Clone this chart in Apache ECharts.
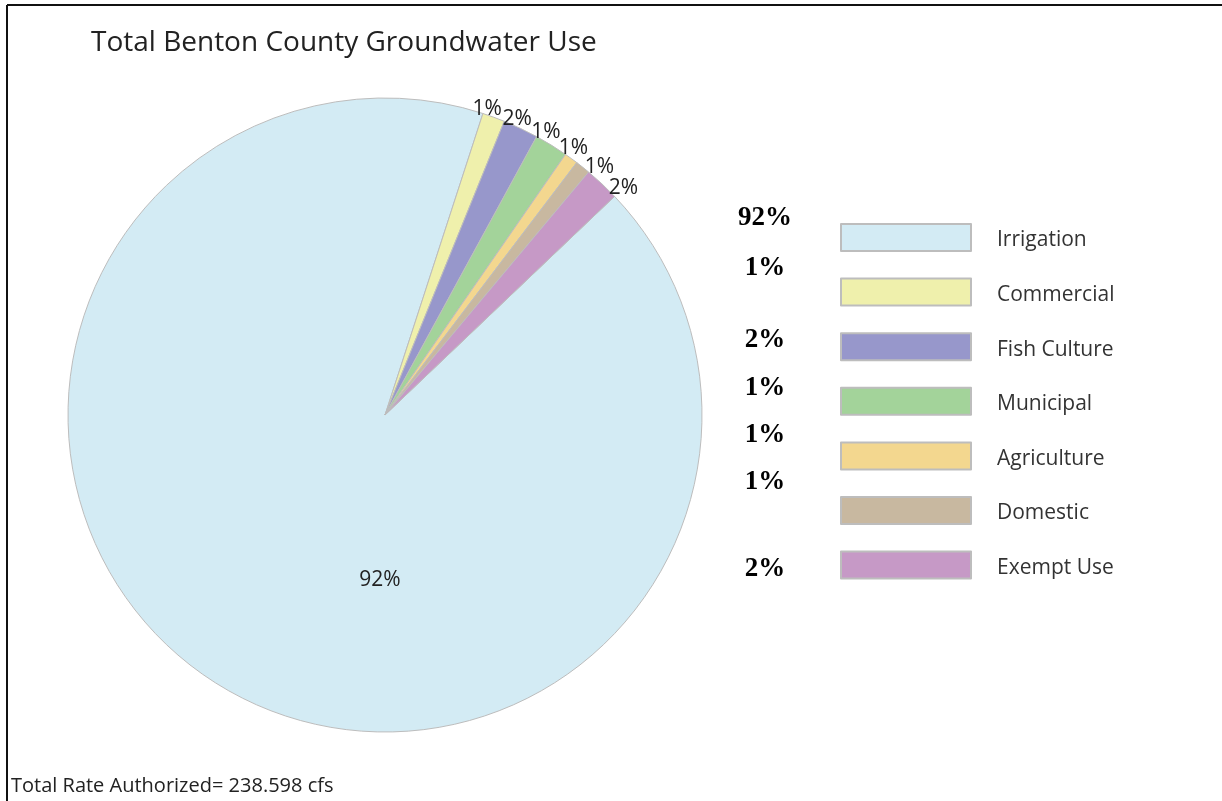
<!DOCTYPE html>
<html>
<head>
<meta charset="utf-8">
<script src="https://cdn.jsdelivr.net/npm/echarts@6/dist/echarts.min.js"></script>
<style>
  html, body { margin: 0; padding: 0; background: #fff; }
  #chart { width: 1222px; height: 801px; }
</style>
</head>
<body>
<div id="chart"></div>
<script>
// data (share of total, percent)
const categories = ['Irrigation', 'Commercial', 'Fish Culture', 'Municipal', 'Agriculture', 'Domestic', 'Exempt Use']
const shares = [92.1, 1.14, 1.8, 1.7, 0.7, 0.76, 1.79]
const sliceLabels = ['92%', '1%', '2%', '1%', '1%', '1%', '2%']
const sideLabels = ['92%', '1%', '2%', '1%', '1%', '1%', '2%']
const colors = ['#d3ebf4', '#eff0ac', '#9797cb', '#a3d39a', '#f3d78f', '#c8b8a0', '#c699c6']

const chart = echarts.init(document.getElementById('chart'))

const font = '"Open Sans", "DejaVu Sans", sans-serif'
const center = [385, 415]
const radius = 317
const startAngle = 43.6

// vertical spots of the bold side labels
const sideY = [218, 268, 340, 388, 435, 482, 569]

// mid angle of each slice, degrees clockwise from 12 o'clock
const total = shares.reduce((a, b) => a + b, 0)
const midAngles = []
let acc = 0
shares.forEach(v => {
  midAngles.push(90 - startAngle + 360 * (acc + v / 2) / total)
  acc += v
})

// small slices are crowded: spread their labels evenly round the rim
const smallIdx = [1, 2, 3, 4, 5, 6]
const gap = 5.6
const meanAngle = smallIdx.reduce((s, i) => s + midAngles[i], 0) / smallIdx.length
function rimLabel(params) {
  const k = smallIdx.indexOf(params.dataIndex)
  if (k < 0) return {}
  const a = (meanAngle + (k - (smallIdx.length - 1) / 2) * gap) * Math.PI / 180
  const r = radius + 6 + k * 1.2
  return {
    x: center[0] + r * Math.sin(a),
    y: center[1] - r * Math.cos(a),
    align: 'center',
    verticalAlign: 'middle'
  }
}

const option = {
  animation: false,
  backgroundColor: '#fff',
  title: {
    text: 'Total Benton County Groundwater Use',
    left: 86,
    top: 24,
    textStyle: { fontFamily: font, fontSize: 28, fontWeight: 'normal', color: '#222' }
  },
  legend: {
    data: categories,
    orient: 'vertical',
    left: 840,
    top: 223,
    padding: 0,
    itemWidth: 130,
    itemHeight: 27,
    itemGap: 25.6,
    icon: 'rect',
    selectedMode: false,
    formatter: name => '{t|' + name + '}',
    textStyle: {
      rich: {
        t: { fontFamily: font, fontSize: 21, color: '#333', lineHeight: 21, padding: [6, 0, 0, 21] }
      }
    }
  },
  graphic: [
    { type: 'line', shape: { x1: 7, y1: 5, x2: 1222, y2: 5 }, style: { stroke: '#111', lineWidth: 2 } },
    { type: 'line', shape: { x1: 7, y1: 5, x2: 7, y2: 801 }, style: { stroke: '#111', lineWidth: 2 } },
    {
      type: 'text', left: 11, top: 776,
      style: { text: 'Total Rate Authorized= 238.598 cfs', fontFamily: font, fontSize: 20, fill: '#222' }
    },
    ...sideLabels.map((t, i) => ({
      type: 'text',
      x: 765,
      y: sideY[i],
      style: {
        text: t,
        fill: '#000',
        font: 'bold 27px "Liberation Serif", "DejaVu Serif", serif',
        textAlign: 'center',
        textVerticalAlign: 'middle'
      }
    }))
  ],
  series: [
    {
      type: 'pie',
      center: center,
      radius: radius,
      startAngle: startAngle,
      clockwise: true,
      silent: true,
      avoidLabelOverlap: false,
      itemStyle: { borderColor: '#bdbdbd', borderWidth: 1 },
      label: { position: 'inside', overflow: 'none', fontFamily: font, fontSize: 21, color: '#222' },
      labelLine: { show: false },
      labelLayout: rimLabel,
      data: categories.map((name, i) => ({
        name,
        value: shares[i],
        itemStyle: { color: colors[i] },
        label: i === 0
          ? { position: 'center', offset: [-5, 165], formatter: sliceLabels[0] }
          : { formatter: sliceLabels[i] }
      }))
    }
  ]
}

chart.setOption(option)
</script>
</body>
</html>
